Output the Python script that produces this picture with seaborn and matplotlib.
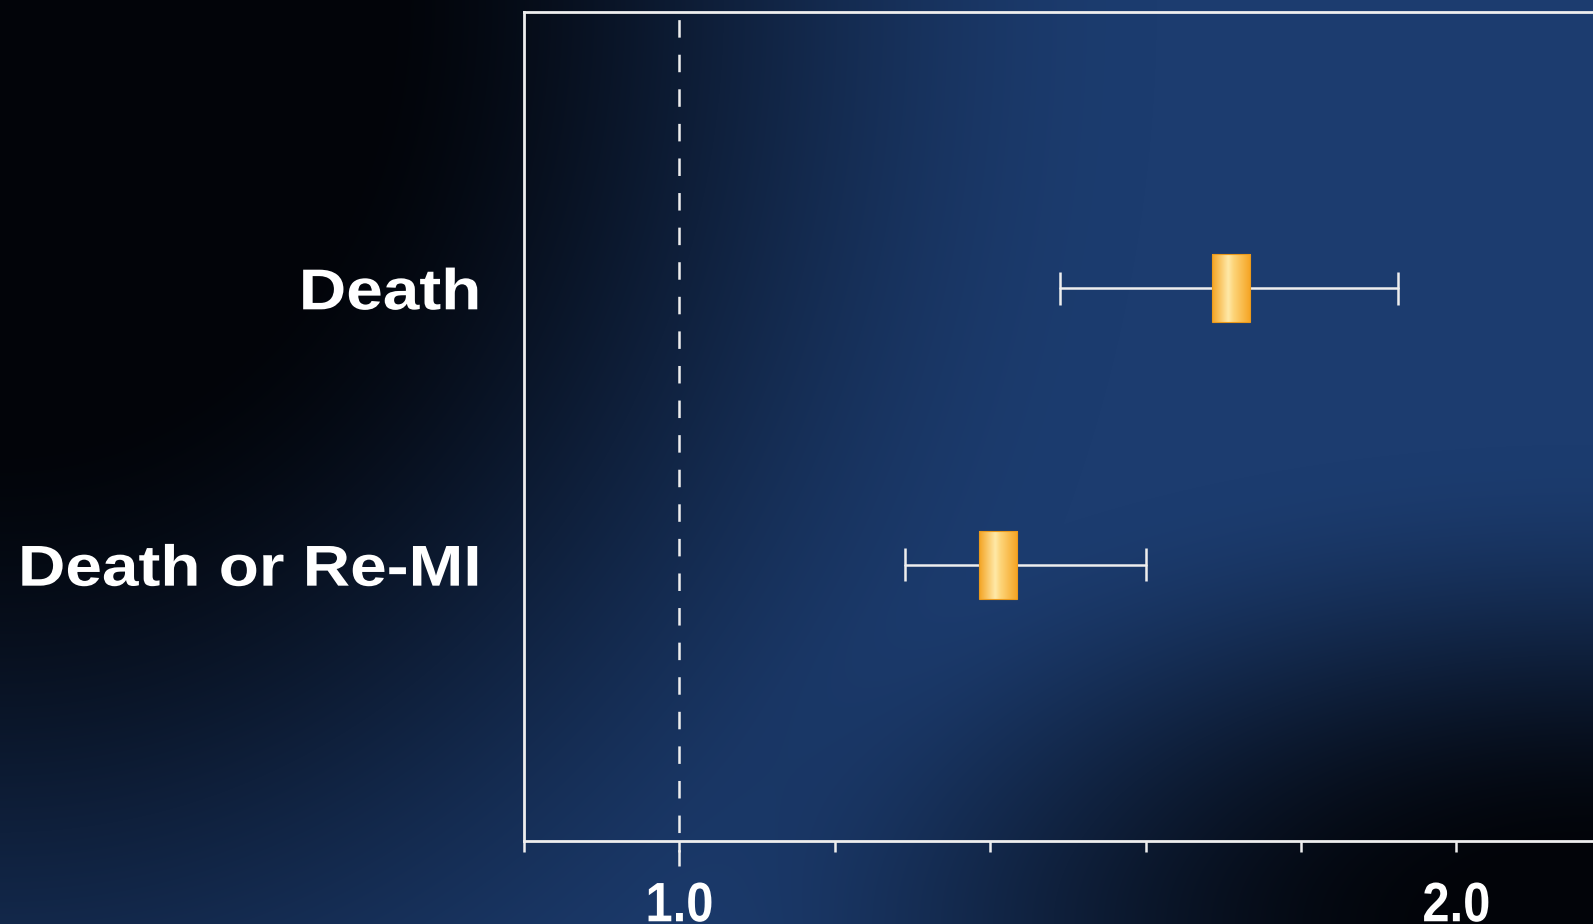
import numpy as np
import pandas as pd
import matplotlib
matplotlib.use("Agg")
import matplotlib.pyplot as plt
from matplotlib.colors import LinearSegmentedColormap
from matplotlib.patches import Rectangle
from matplotlib.patheffects import AbstractPathEffect
from matplotlib.transforms import Affine2D
import seaborn as sns

# Hazard ratios with 95% confidence intervals
outcomes = ["Death", "Death or Re-MI"]
hazard_ratio = [1.71, 1.41]
ci_low = [1.49, 1.29]
ci_high = [1.925, 1.60]

tick_values = [0.8, 1.0, 1.2, 1.4, 1.6, 1.8, 2.0, 2.2]
tick_labels = ["", "1.0", "", "", "", "", "2.0", ""]
reference_value = 1.0

sns.set_theme(style="ticks")
plt.rcParams["font.family"] = ["Liberation Sans", "DejaVu Sans"]
plt.rcParams["lines.scale_dashes"] = False


class HStretch(AbstractPathEffect):
    """Scale glyph outlines horizontally about the left, centre or right edge."""

    def __init__(self, sx, anchor="center"):
        super().__init__()
        self.sx = sx
        self.anchor = anchor

    def draw_path(self, renderer, gc, tpath, affine, rgbFace=None):
        ext = tpath.get_extents(affine)
        if self.anchor == "right":
            cx = ext.x1
        elif self.anchor == "left":
            cx = ext.x0
        else:
            cx = 0.5 * (ext.x0 + ext.x1)
        aff = affine + Affine2D().translate(-cx, 0).scale(self.sx, 1.0).translate(cx, 0)
        renderer.draw_path(gc, tpath, aff, rgbFace)


W, H = 1593, 924
fig = plt.figure(figsize=(W / 100, H / 100), dpi=100)

# Dark navy backdrop: blue band across the middle, fading to black in two corners
yy, xx = np.mgrid[0:H, 0:W].astype(float)


def smooth(t):
    t = np.clip(t, 0, 1)
    return t * t * (3 - 2 * t)


rho1 = np.hypot(xx * 1.15, yy)
f1 = smooth((rho1 - 430) / 900) ** 0.8
rho2 = np.hypot((xx - W) / 2.0, yy - H)
f2 = smooth((rho2 - 60) / 420)
bright = f1 * f2
blue = np.array([28, 60, 111]) / 255
black = np.array([2, 4, 9]) / 255
backdrop = black + (blue - black) * bright[..., None]

bg = fig.add_axes([0, 0, 1, 1], zorder=0)
bg.imshow(backdrop, aspect="auto", extent=(0, 1, 0, 1), origin="upper")
bg.set_axis_off()

# Plot area (right edge runs past the figure)
ax_left, ax_bottom = 524 / W, 1 - 841 / H
ax_h = (841 - 12) / H
ax_w = 1.4 * 777 / W
ax = fig.add_axes([ax_left, ax_bottom, ax_w, ax_h], zorder=1)
ax.patch.set_alpha(0)

n = len(outcomes)
rows = np.array([n - i for i in range(n)], dtype=float)

line_col = "#eeeeee"

# Confidence-interval whiskers
ci_df = pd.DataFrame({
    "outcome": np.repeat(outcomes, 2),
    "hr": np.ravel(np.column_stack([ci_low, ci_high])),
    "row": np.repeat(rows, 2),
})
sns.lineplot(data=ci_df, x="hr", y="row", units="outcome", estimator=None,
             sort=False, color=line_col, linewidth=1.8, legend=False, ax=ax, zorder=3)
cap = 0.06
ax.vlines(ci_low, rows - cap, rows + cap, color=line_col, linewidth=1.8, zorder=3)
ax.vlines(ci_high, rows - cap, rows + cap, color=line_col, linewidth=1.8, zorder=3)

# Gold point-estimate boxes with a horizontal sheen
gold = LinearSegmentedColormap.from_list(
    "gold", [(0.0, "#f4a322"), (0.42, "#ffe9a8"), (0.55, "#fdd57a"), (1.0, "#f5a321")])
sheen = np.linspace(0, 1, 256)[None, :]
half_w, half_h = 0.0247, 0.123
for hr, r in zip(hazard_ratio, rows):
    ax.imshow(sheen, cmap=gold, aspect="auto", interpolation="bicubic",
              extent=(hr - half_w, hr + half_w, r - half_h, r + half_h), zorder=4)
    ax.add_patch(Rectangle((hr - half_w, r - half_h), 2 * half_w, 2 * half_h,
                           fill=False, edgecolor="#eb9a1c", linewidth=0.8, zorder=5))

# Line of no effect
ax.plot([reference_value, reference_value], [3.0, -0.0905], color=line_col,
        linewidth=1.8, linestyle=(19.4, (12.6, 12.3)), clip_on=False, zorder=2)

ax.set_xlim(0.8, 2.2)
ax.set_ylim(0, 3)
ax.set_xticks(tick_values)
ax.set_xticklabels(tick_labels)
ax.set_yticks(rows)
ax.set_yticklabels(outcomes)
ax.set_xlabel("")
ax.set_ylabel("")

for side in ["left", "top", "bottom"]:
    ax.spines[side].set_color(line_col)
    ax.spines[side].set_linewidth(2.0)
ax.spines["right"].set_visible(False)

ax.tick_params(axis="x", direction="out", length=8, width=1.8, color=line_col,
               pad=21, labelcolor="white")
ax.tick_params(axis="y", length=0, pad=31, labelcolor="white")
for lab in ax.get_xticklabels():
    lab.set_fontweight("bold")
    lab.set_fontsize(40)
    lab.set_path_effects([HStretch(0.88, "center")])
for lab in ax.get_yticklabels():
    lab.set_fontweight("bold")
    lab.set_fontsize(41.5)
    lab.set_path_effects([HStretch(1.14, "right")])

fig.savefig("out.png", dpi=100)
